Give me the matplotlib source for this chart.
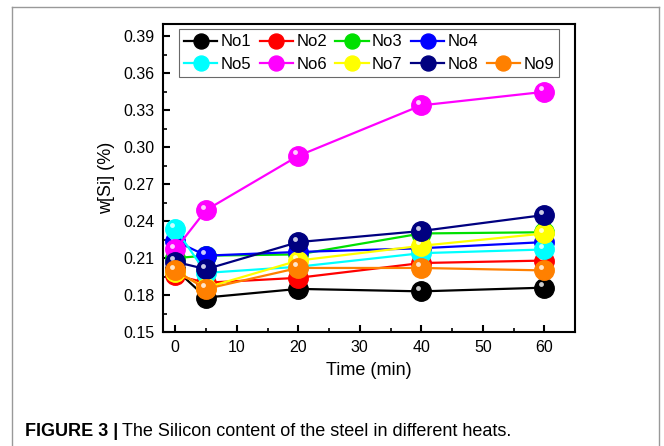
import matplotlib
matplotlib.use('Agg')
import matplotlib.pyplot as plt
import matplotlib.transforms as mtransforms
from matplotlib.lines import Line2D

plt.rcParams['font.family'] = ['Liberation Sans', 'DejaVu Sans']

time = [0, 5, 20, 40, 60]
names = ['No1', 'No2', 'No3', 'No4', 'No5', 'No6', 'No7', 'No8', 'No9']
colors = ['#000000', '#ff0000', '#00e000', '#0000ff', '#00ffff',
          '#ff00ff', '#ffff00', '#000080', '#ff8000']
no1 = [0.201, 0.178, 0.185, 0.183, 0.186]
no2 = [0.196, 0.190, 0.194, 0.206, 0.208]
no3 = [0.210, 0.212, 0.213, 0.230, 0.231]
no4 = [0.224, 0.212, 0.215, 0.218, 0.223]
no5 = [0.234, 0.198, 0.203, 0.214, 0.217]
no6 = [0.217, 0.249, 0.293, 0.334, 0.345]
no7 = [0.199, 0.186, 0.208, 0.220, 0.230]
no8 = [0.207, 0.201, 0.223, 0.232, 0.245]
no9 = [0.200, 0.185, 0.202, 0.202, 0.200]
series = [no1, no2, no3, no4, no5, no6, no7, no8, no9]

fig = plt.figure(figsize=(6.64, 4.46), dpi=100)
ax = fig.add_axes([0.2455, 0.2556, 0.6205, 0.6904])

# small white highlight shifted up-left on each ball
shift = mtransforms.ScaledTranslation(-2.5 / 72, 2.5 / 72, fig.dpi_scale_trans)
handles = []
for vals, c, n in zip(series, colors, names):
    h, = ax.plot(time, vals, '-o', color=c, lw=1.6, ms=14, mec=c, label=n)
    ax.plot(time, vals, 'o', color='white', ms=3.5, mec='none', alpha=0.8,
            transform=ax.transData + shift)
    handles.append(h)

ax.set_xlim(-2, 65)
ax.set_ylim(0.15, 0.40)
ax.set_xticks([0, 10, 20, 30, 40, 50, 60])
ax.set_xticks([5, 15, 25, 35, 45, 55], minor=True)
ax.set_yticks([0.15, 0.18, 0.21, 0.24, 0.27, 0.30, 0.33, 0.36, 0.39])
ax.set_yticks([0.165, 0.195, 0.225, 0.255, 0.285, 0.315, 0.345, 0.375], minor=True)
ax.yaxis.set_major_formatter(matplotlib.ticker.FormatStrFormatter('%.2f'))
ax.tick_params(direction='in', which='major', length=5, width=1.5, labelsize=11.5, pad=6)
ax.tick_params(direction='in', which='minor', length=3, width=1.2)
for s in ax.spines.values():
    s.set_linewidth(1.5)
ax.set_xlabel('Time (min)', fontsize=13, labelpad=5)
ax.set_ylabel('w[Si] (%)', fontsize=13, labelpad=6)

blank = Line2D([], [], linestyle='none', marker='none')
order = [handles[0], handles[4], handles[1], handles[5], handles[2],
         handles[6], handles[3], handles[7], blank, handles[8]]
labels = ['No1', 'No5', 'No2', 'No6', 'No3', 'No7', 'No4', 'No8', '', 'No9']
leg = ax.legend(order, labels, ncol=5, loc='upper center', bbox_to_anchor=(0.5, 1.01),
                fontsize=12, frameon=True, fancybox=False, edgecolor='#444444',
                handlelength=2.0, handletextpad=0.2, columnspacing=0.5,
                labelspacing=0.45, borderpad=0.3, markerscale=0.77)
leg.get_frame().set_linewidth(0.8)

# outer gray frame of the figure panel
fc = '#999999'
fig.add_artist(Line2D([12 / 664, 12 / 664], [0, 1 - 7 / 446], color=fc, lw=1,
                      transform=fig.transFigure))
fig.add_artist(Line2D([12 / 664, 659 / 664], [1 - 7 / 446, 1 - 7 / 446], color=fc, lw=1,
                      transform=fig.transFigure))
fig.add_artist(Line2D([659 / 664, 659 / 664], [0, 1 - 7 / 446], color=fc, lw=1,
                      transform=fig.transFigure))

fig.text(25 / 664, 1 - 431 / 446, r'FIGURE 3 |', fontsize=13, fontweight='bold',
         va='center', ha='left')
fig.text(122 / 664, 1 - 431 / 446, 'The Silicon content of the steel in different heats.',
         fontsize=13, va='center', ha='left')

fig.savefig('out.png', dpi=100)
